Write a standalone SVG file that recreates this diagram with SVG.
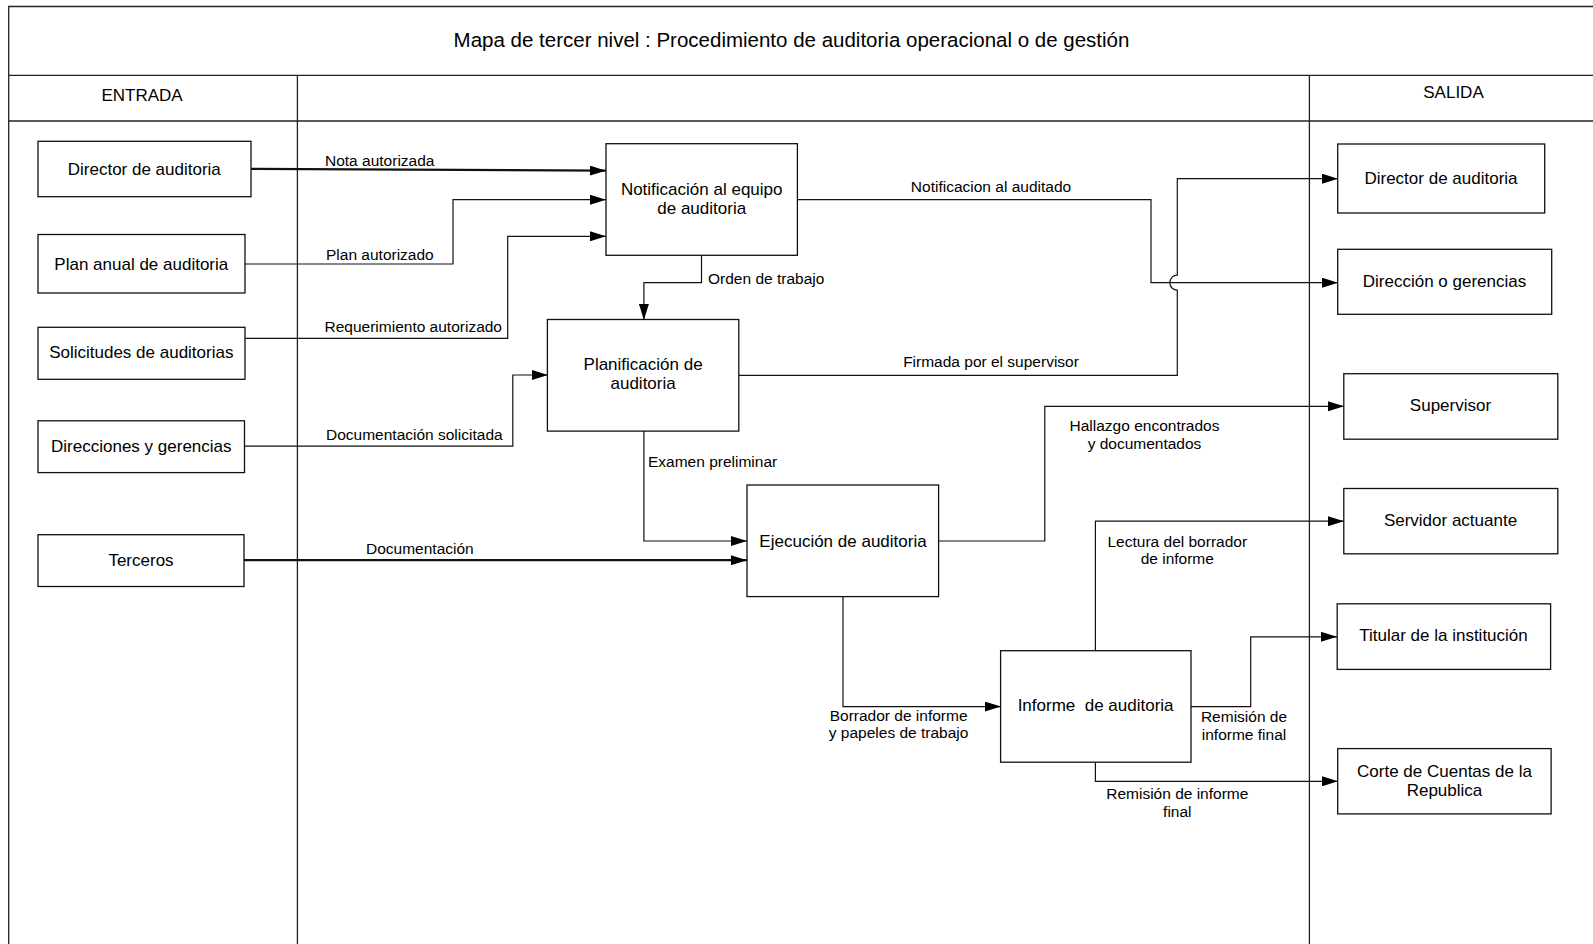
<svg xmlns="http://www.w3.org/2000/svg" width="1593" height="944" viewBox="0 0 1593 944">
  <defs>
    <marker id="arrow" markerUnits="userSpaceOnUse" markerWidth="16" markerHeight="10" refX="16" refY="5" orient="auto">
      <path d="M0,0 L16,5 L0,10 z" fill="#000"/>
    </marker>
    <style>
      .frame { fill: none; stroke: #222; stroke-width: 1.3; }
      .box { fill: #fff; stroke: #111; stroke-width: 1.3; }
      .node-text { font-family: "Liberation Sans", Arial, sans-serif; font-size: 17px; fill: #000; text-anchor: middle; }
      .hdr { font-family: "Liberation Sans", Arial, sans-serif; font-size: 17px; fill: #000; text-anchor: middle; }
      .title { font-family: "Liberation Sans", Arial, sans-serif; font-size: 20.5px; fill: #000; text-anchor: middle; }
      .lbl { font-family: "Liberation Sans", Arial, sans-serif; font-size: 15.5px; fill: #000; }
      .mid { text-anchor: middle; }
      .conn { fill: none; stroke: #111; stroke-width: 1.2; marker-end: url(#arrow); }
      .conn.thick { stroke-width: 2.2; }
    </style>
  </defs>
  <rect width="1593" height="944" fill="#fff"/>

  <!-- swimlane frame -->
  <g id="frame">
    <path class="frame" d="M8.7,944 V6.5 H1593"/>
    <line class="frame" x1="8.7" y1="75.3" x2="1593" y2="75.3"/>
    <line class="frame" x1="8.7" y1="121" x2="1593" y2="121"/>
    <line class="frame" x1="297.4" y1="75.3" x2="297.4" y2="944"/>
    <line class="frame" x1="1309.4" y1="75.3" x2="1309.4" y2="944"/>
    <text class="title" x="791.5" y="46.5">Mapa de tercer nivel : Procedimiento de auditoria operacional o de gestión</text>
    <text class="hdr" x="142" y="101">ENTRADA</text>
    <text class="hdr" x="1453.5" y="97.5">SALIDA</text>
  </g>

  <!-- connectors -->
  <g id="connectors">
    <path class="conn thick" d="M251,168.8 L606,170.7"/>
    <path class="conn" d="M244.8,264 H453 V199.7 H606"/>
    <path class="conn" d="M245,338.3 H507.7 V236.3 H606"/>
    <path class="conn" d="M244.4,446.2 H512.8 V375 H548"/>
    <path class="conn thick" d="M244,560.2 H747"/>
    <path class="conn" d="M701.5,255 V282.7 H643.9 V320"/>
    <path class="conn" d="M797,199.7 H1151 V282.7 H1338"/>
    <path class="conn" d="M738.8,375.3 H1177.3 V290.2 A7.5,7.5 0 0 1 1177.3,275.2 V178.7 H1338"/>
    <path class="conn" d="M643.9,431 V541 H747"/>
    <path class="conn" d="M938.6,541 H1044.8 V406.3 H1344"/>
    <path class="conn" d="M843,596 V706.6 H1001"/>
    <path class="conn" d="M1095.4,651 V521.2 H1344"/>
    <path class="conn" d="M1191,706.6 H1250.7 V636.8 H1337"/>
    <path class="conn" d="M1095.4,762 V781.3 H1338"/>

    <text class="lbl" x="325" y="166">Nota autorizada</text>
    <text class="lbl" x="326" y="260">Plan autorizado</text>
    <text class="lbl" x="324.5" y="332">Requerimiento autorizado</text>
    <text class="lbl" x="326" y="440">Documentación solicitada</text>
    <text class="lbl" x="366" y="553.5">Documentación</text>
    <text class="lbl" x="708" y="284">Orden de trabajo</text>
    <text class="lbl mid" x="991" y="192">Notificacion al auditado</text>
    <text class="lbl mid" x="991" y="367">Firmada por el supervisor</text>
    <text class="lbl" x="648" y="466.5">Examen preliminar</text>
    <text class="lbl mid" x="1144.5" y="430.5">Hallazgo encontrados</text>
    <text class="lbl mid" x="1144.5" y="448.5">y documentados</text>
    <text class="lbl mid" x="898.6" y="721">Borrador de informe</text>
    <text class="lbl mid" x="898.6" y="738">y papeles de trabajo</text>
    <text class="lbl mid" x="1177.3" y="546.5">Lectura del borrador</text>
    <text class="lbl mid" x="1177.3" y="564">de informe</text>
    <text class="lbl mid" x="1244" y="722">Remisión de</text>
    <text class="lbl mid" x="1244" y="739.5">informe final</text>
    <text class="lbl mid" x="1177.3" y="799.3">Remisión de informe</text>
    <text class="lbl mid" x="1177.3" y="816.7">final</text>
  </g>

  <!-- input nodes -->
  <g id="in-director">
    <rect class="box" x="38" y="141.3" width="213" height="55.4"/>
    <text class="node-text" x="144.3" y="174.5">Director de auditoria</text>
  </g>
  <g id="in-plan">
    <rect class="box" x="38" y="234.5" width="207" height="58.5"/>
    <text class="node-text" x="141.3" y="269.5">Plan anual de auditoria</text>
  </g>
  <g id="in-solicitudes">
    <rect class="box" x="38" y="327.3" width="207" height="52"/>
    <text class="node-text" x="141.3" y="358">Solicitudes de auditorias</text>
  </g>
  <g id="in-direcciones">
    <rect class="box" x="38" y="420.8" width="206.5" height="51.8"/>
    <text class="node-text" x="141.3" y="452">Direcciones y gerencias</text>
  </g>
  <g id="in-terceros">
    <rect class="box" x="38" y="534.7" width="206" height="51.8"/>
    <text class="node-text" x="141" y="565.5">Terceros</text>
  </g>

  <!-- process nodes -->
  <g id="p-notificacion">
    <rect class="box" x="606" y="143.7" width="191.4" height="111.6"/>
    <text class="node-text" x="701.7" y="195">Notificación al equipo</text>
    <text class="node-text" x="701.7" y="214">de auditoria</text>
  </g>
  <g id="p-planificacion">
    <rect class="box" x="547.4" y="319.5" width="191.4" height="111.6"/>
    <text class="node-text" x="643.1" y="370">Planificación de</text>
    <text class="node-text" x="643.1" y="389">auditoria</text>
  </g>
  <g id="p-ejecucion">
    <rect class="box" x="747" y="485" width="191.6" height="111.6"/>
    <text class="node-text" x="843" y="546.5">Ejecución de auditoria</text>
  </g>
  <g id="p-informe">
    <rect class="box" x="1000.6" y="650.7" width="190.4" height="111.5"/>
    <text class="node-text" x="1095.6" y="711" xml:space="preserve">Informe  de auditoria</text>
  </g>

  <!-- output nodes -->
  <g id="out-director">
    <rect class="box" x="1337.7" y="144" width="207" height="69"/>
    <text class="node-text" x="1441" y="184">Director de auditoria</text>
  </g>
  <g id="out-direccion">
    <rect class="box" x="1337.7" y="249.3" width="214" height="65"/>
    <text class="node-text" x="1444.5" y="287">Dirección o gerencias</text>
  </g>
  <g id="out-supervisor">
    <rect class="box" x="1343.8" y="373.7" width="214" height="65.5"/>
    <text class="node-text" x="1450.5" y="411">Supervisor</text>
  </g>
  <g id="out-servidor">
    <rect class="box" x="1343.8" y="488.5" width="214" height="65.3"/>
    <text class="node-text" x="1450.5" y="526">Servidor actuante</text>
  </g>
  <g id="out-titular">
    <rect class="box" x="1337.2" y="603.8" width="213.4" height="65.6"/>
    <text class="node-text" x="1443.5" y="641">Titular de la institución</text>
  </g>
  <g id="out-corte">
    <rect class="box" x="1337.7" y="748.6" width="213.4" height="65.3"/>
    <text class="node-text" x="1444.5" y="776.5">Corte de Cuentas de la</text>
    <text class="node-text" x="1444.5" y="796">Republica</text>
  </g>
</svg>
